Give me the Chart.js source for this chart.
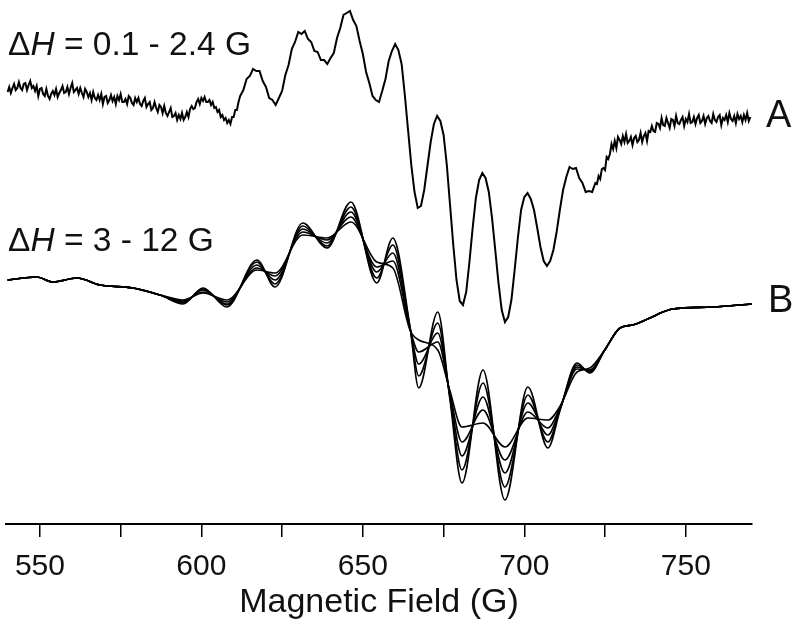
<!DOCTYPE html>
<html>
<head>
<meta charset="utf-8">
<script src="https://cdn.jsdelivr.net/npm/chart.js@4/dist/chart.umd.min.js"></script>
<style>
  html, body { margin: 0; padding: 0; background: #fff; }
  canvas { display: block; }
</style>
</head>
<body>
<canvas id="epr" width="800" height="631"></canvas>
<script>
// trace A (experimental): low-field baseline, every 0.5 G from 540 G
const lowStartA = 540, lowStepA = 0.5;
const sigALow = [
  308, 313, 307, 312, 316, 310, 312, 318, 312, 310,
  316, 317, 310, 315, 319, 312, 314, 309, 314, 304,
  311, 312, 306, 304, 311, 304, 301, 306, 309, 305,
  311, 303, 307, 310, 314, 307, 308, 313, 306, 312,
  317, 308, 310, 312, 306, 312, 307, 303, 311, 308,
  303, 307, 300, 308, 302, 300, 305, 300, 306, 296,
  303, 304, 297, 300, 305, 299, 303, 296, 304, 300,
  306, 298, 298, 301, 296, 304, 302, 297, 295, 302,
  298, 302, 296, 294, 299, 302, 293, 296, 298, 290,
  292, 298, 292, 288, 295, 293, 287, 294, 287, 284,
  288, 292, 283, 284, 287, 280, 285, 281, 287, 280,
  283, 288, 283, 291, 294, 291, 292, 298, 301, 296,
  302, 299, 303, 298, 298, 300, 295, 298, 292, 293,
  288, 290, 283, 285, 280, 282, 277, 280, 276, 283,
  283, 290, 290, 298
];
// trace A: hyperfine lines, every 1 G from 612 G
const midStartA = 612, midStepA = 1;
const sigAMid = [
  304, 310, 321, 324, 331, 329, 329, 319,
  313, 302, 300, 295, 302, 309, 325, 335, 351, 358,
  368, 366, 369, 361, 358, 349, 348, 340, 340, 336,
  342, 347, 362, 372, 385, 387, 389, 380, 374, 359,
  346, 328, 317, 304, 300, 298, 309, 321, 339, 349,
  356, 350, 336, 305, 270, 235, 208, 192, 194, 210,
  234, 258, 276, 284, 279, 265, 235, 195, 155, 120,
  99, 95, 108, 138, 172, 202, 220, 227, 222, 208,
  182, 150, 117, 90, 78, 83, 100, 130, 162, 190,
  203, 207, 201, 190, 172, 153, 139, 134, 139, 150,
  168, 190, 210, 223, 233, 231, 232, 222, 217, 208,
  209, 208, 217
];
// trace A: high-field baseline, every 0.5 G from 722.5 G
const highStartA = 722.5, highStepA = 0.5;
const sigAHigh = [
  216, 224, 221, 231, 232, 230, 243, 241, 246, 256,
  251, 259, 252, 263, 260, 256, 264, 258, 266, 257,
  259, 263, 255, 262, 264, 258, 260, 267, 258, 264,
  267, 259, 269, 268, 274, 269, 268, 277, 276, 272,
  282, 275, 274, 282, 277, 272, 281, 280, 274, 284,
  277, 276, 280, 283, 274, 281, 278, 286, 277, 278,
  283, 276, 282, 285, 277, 279, 284, 276, 282, 284,
  279, 277, 286, 280, 278, 283, 285, 275, 282, 280,
  285, 278, 287, 281, 279, 284, 277, 286, 281, 284,
  278, 285, 280, 287, 279, 283
];

// trace B: simulations, five linewidths (sharpest first)
const fieldB = [540, 549, 554, 561.5, 568.6, 578.8, 587.2, 594.3, 600.5, 607.9,
  617.2, 622.8, 631.4, 638.9, 646.3, 654.3, 659.3, 664.6, 667.3, 673.2,
  676.9, 680.7, 687.2, 694, 701.1, 707.3, 711.1, 716.3, 720.3, 724.9,
  729.6, 733.6, 738.9, 742.9, 746, 758.4, 770.4];
const simB1 = [120, 123, 118, 122, 115, 112, 105, 96, 112, 93, 140, 113, 177, 152, 198, 117, 162, 73, 12, 88, 2, -83, 30, -100, 13, -48, -10, 37, 27, 50, 72, 75, 82, 88, 91, 93, 96];
const simB2 = [120, 123, 118, 122, 115, 112, 105, 97, 111, 95, 138, 116, 174, 154, 193, 122, 155, 73, 24, 77, 4, -70, 17, -87, 5, -42, -9, 35, 28, 50, 72, 75, 82, 88, 91, 93, 96];
const simB3 = [120, 123, 118, 122, 115, 112, 105, 98, 110, 96, 135, 120, 171, 157, 188, 128, 147, 72, 36, 67, 6, -56, 3, -73, -3, -35, -8, 33, 29, 50, 72, 75, 82, 88, 91, 93, 96];
const simB4 = [120, 123, 118, 122, 115, 112, 105, 99, 108, 98, 132, 124, 168, 160, 183, 133, 139, 71, 48, 58, 8, -42, -10, -60, -12, -28, -7, 31, 30, 50, 72, 75, 82, 88, 91, 93, 96];
const simB5 = [120, 123, 118, 122, 115, 112, 105, 100, 107, 100, 130, 127, 165, 162, 178, 138, 132, 70, 60, 50, 10, -27, -23, -47, -18, -20, -6, 28, 32, 50, 72, 75, 82, 88, 91, 93, 96];

const xTicks = [550, 575, 600, 625, 650, 675, 700, 725, 750];
const xLabelled = [550, 600, 650, 700, 750];

Chart.defaults.font.family = "'Liberation Sans', Arial, sans-serif";

function toPoints(start, step, vals) {
    return vals.map((v, i) => ({ x: start + i * step, y: v }));
}
const ptsA = [].concat(
    toPoints(lowStartA, lowStepA, sigALow),
    toPoints(midStartA, midStepA, sigAMid),
    toPoints(highStartA, highStepA, sigAHigh)
);

function simSet(vals) {
    return {
        data: fieldB.map((x, i) => ({ x: x, y: vals[i] })),
        borderColor: '#000', borderWidth: 1.6, pointRadius: 0,
        cubicInterpolationMode: 'monotone', fill: false
    };
}

// ΔH notes and the A / B tags
const notes = {
    id: 'notes',
    afterDraw(chart) {
        const ctx = chart.ctx;
        const y = chart.scales.y;
        const area = chart.chartArea;
        const fam = "'Liberation Sans', Arial, sans-serif";
        ctx.save();
        ctx.fillStyle = '#111';
        ctx.textBaseline = 'alphabetic';
        const deltaH = (x0, base, rest) => {
            ctx.font = '33.5px ' + fam;
            ctx.fillText('\u0394', x0, base);
            let x = x0 + ctx.measureText('\u0394').width;
            ctx.font = 'italic 33.5px ' + fam;
            ctx.fillText('H', x, base);
            x += ctx.measureText('H').width;
            ctx.font = '33.5px ' + fam;
            ctx.fillText(' = ' + rest, x, base);
        };
        deltaH(area.left + 2, 55, '0.1 - 2.4 G');
        deltaH(area.left + 2, 251, '3 - 12 G');
        ctx.font = '38px ' + fam;
        ctx.fillText('A', area.right + 14, y.getPixelForValue(282) + 9);
        ctx.fillText('B', area.right + 16, y.getPixelForValue(96) + 8);
        ctx.restore();
    }
};

new Chart(document.getElementById('epr'), {
    type: 'line',
    data: {
        datasets: [
            { data: ptsA, borderColor: '#000', borderWidth: 2, pointRadius: 0, tension: 0, fill: false },
            simSet(simB1), simSet(simB2), simSet(simB3), simSet(simB4), simSet(simB5)
        ]
    },
    options: {
        responsive: false,
        animation: false,
        layout: { padding: { left: 6, right: 48, top: 0, bottom: 0 } },
        plugins: { legend: { display: false }, tooltip: { enabled: false } },
        scales: {
            x: {
                type: 'linear',
                min: 539.5, max: 770.5,
                afterBuildTicks: s => { s.ticks = xTicks.map(v => ({ value: v })); },
                afterFit: s => { s.height = 107; },
                ticks: {
                    autoSkip: false, maxRotation: 0, padding: 12,
                    color: '#111', font: { size: 30 },
                    callback: v => xLabelled.includes(v) ? String(v) : ''
                },
                grid: { drawOnChartArea: false, drawTicks: true, tickLength: 13, color: '#000', lineWidth: 1.5 },
                border: { display: true, color: '#000', width: 2 },
                title: { display: true, text: 'Magnetic Field (G)', color: '#111', font: { size: 34 }, padding: { top: 0, bottom: 8 } }
            },
            y: { display: false, min: -124, max: 400 }
        }
    },
    plugins: [notes]
});
</script>
</body>
</html>
